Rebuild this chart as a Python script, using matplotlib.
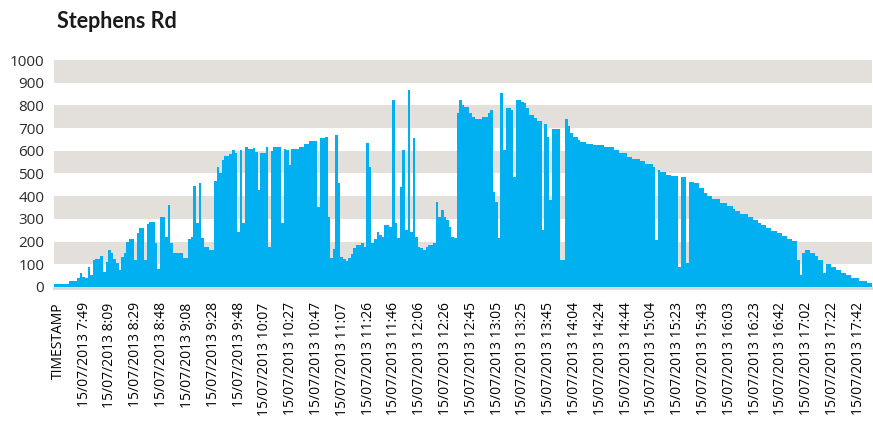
import numpy as np
import matplotlib.pyplot as plt

plt.rcParams['font.family'] = ['Open Sans', 'DejaVu Sans']

# readings, one value per two samples
irradiance = [
    15, 15, 15, 15, 15, 15, 28, 28, 28, 40,
    63, 45, 40, 87, 51, 118, 125, 125, 137, 66,
    108, 163, 151, 125, 104, 75, 134, 148, 198, 213,
    213, 119, 239, 260, 260, 119, 277, 286, 286, 195,
    78, 310, 310, 222, 360, 192, 151, 151, 151, 151,
    128, 128, 213, 222, 445, 280, 456, 214, 175, 175,
    163, 163, 468, 530, 500, 559, 577, 577, 586, 603,
    589, 244, 603, 280, 615, 609, 609, 612, 594, 427,
    589, 589, 615, 178, 600, 615, 615, 615, 280, 609,
    603, 537, 606, 606, 606, 618, 618, 630, 630, 641,
    641, 641, 354, 656, 656, 659, 310, 126, 166, 669,
    456, 134, 122, 116, 126, 145, 170, 185, 185, 195,
    178, 633, 530, 192, 210, 244, 229, 222, 273, 273,
    263, 824, 280, 214, 441, 603, 251, 868, 244, 655,
    222, 178, 170, 163, 178, 185, 185, 192, 376, 310,
    339, 310, 295, 266, 222, 214, 765, 824, 802, 794,
    794, 765, 750, 738, 738, 738, 750, 750, 765, 780,
    420, 376, 214, 853, 603, 787, 787, 780, 486, 824,
    824, 816, 812, 787, 758, 758, 743, 733, 733, 251,
    718, 659, 383, 697, 697, 697, 119, 119, 740, 709,
    677, 659, 659, 647, 640, 640, 630, 630, 630, 627,
    627, 624, 624, 615, 615, 615, 615, 603, 603, 589,
    589, 589, 574, 574, 565, 565, 565, 553, 553, 542,
    542, 542, 530, 207, 515, 506, 506, 495, 495, 489,
    489, 489, 90, 486, 486, 104, 464, 464, 456, 456,
    435, 435, 415, 401, 401, 386, 386, 386, 368, 368,
    368, 357, 357, 345, 333, 333, 321, 321, 321, 307,
    307, 295, 295, 283, 272, 272, 260, 260, 248, 248,
    236, 236, 225, 225, 213, 213, 201, 201, 119, 53,
    148, 163, 163, 151, 151, 137, 119, 119, 63, 101,
    101, 87, 87, 75, 75, 63, 63, 51, 51, 40,
    40, 40, 28, 28, 28, 16, 16,
]

date_label = '15/07/2013'
tick_times = ['7:49', '8:09', '8:29', '8:48', '9:08', '9:28', '9:48', '10:07',
              '10:27', '10:47', '11:07', '11:26', '11:46', '12:06', '12:26',
              '12:45', '13:05', '13:25', '13:45', '14:04', '14:24', '14:44',
              '15:04', '15:23', '15:43', '16:03', '16:23', '16:42', '17:02',
              '17:22', '17:42']
tick_labels = ['TIMESTAMP'] + [date_label + ' ' + t for t in tick_times]
y_ticks = [0, 100, 200, 300, 400, 500, 600, 700, 800, 900, 1000]

text_col = '#2b2b2b'

fig = plt.figure(figsize=(8.73, 4.44), dpi=100)
ax = fig.add_axes([54/873, 1 - 287/444, 818/873, 227/444])

# alternate grey bands
for lo, hi in zip(y_ticks[1::2], y_ticks[2::2]):
    ax.axhspan(lo, hi, color='#E3E0DC', lw=0, zorder=0)

ax.stairs(irradiance, np.arange(len(irradiance) + 1), fill=True,
          color='#00B0F0', lw=0, zorder=2)

ax.set_xlim(0, len(irradiance))
ax.set_ylim(0, 1000)

tick_pos = 1.7 + 10 * np.arange(len(tick_labels))
ax.set_xticks(tick_pos)
ax.set_xticklabels(tick_labels, fontsize=12.5, color=text_col)
ax.set_yticks(y_ticks)
ax.set_yticklabels([str(v) for v in y_ticks], fontsize=11, color=text_col)
ax.tick_params(axis='x', length=0, pad=10, labelrotation=90)
ax.tick_params(axis='y', length=0, pad=7)

for s in ['top', 'right', 'left']:
    ax.spines[s].set_visible(False)
ax.spines['bottom'].set_color('#D9D9D9')
ax.spines['bottom'].set_linewidth(2)
ax.spines['bottom'].set_position(('outward', 1))

fig.text(57/873, 1 - 28.5/444, 'Stephens Rd', fontsize=15.5, family='Lato',
         fontweight='bold', va='baseline', color='#1a1a1a')

fig.savefig('out.png', dpi=100)
